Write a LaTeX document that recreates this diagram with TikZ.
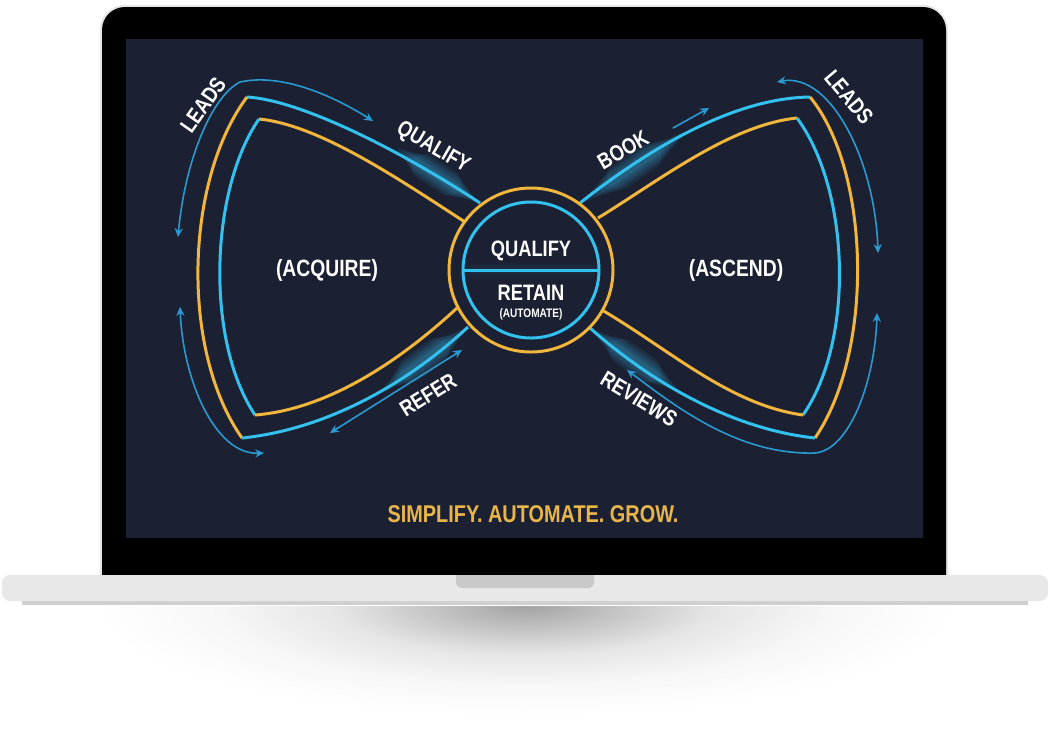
\documentclass[tikz,border=0pt]{standalone}
\usepackage{fontspec}
\newfontfamily\labelfont{Liberation Sans}[FakeStretch=0.82]
\usetikzlibrary{arrows.meta,calc}

\definecolor{screen}{HTML}{1B2133}
\definecolor{wireblue}{HTML}{33C2F0}
\definecolor{wiregold}{HTML}{F2B63D}
\definecolor{flowblue}{HTML}{2A9BD2}
\definecolor{glowblue}{HTML}{3FC8FF}
\definecolor{taggold}{HTML}{EAB548}
\definecolor{lidedge}{HTML}{E3E5E7}
\definecolor{basegray}{HTML}{E8E8E8}
\definecolor{notchgray}{HTML}{C9C9C9}
\definecolor{stripgray}{HTML}{CFCFCF}
\pgfdeclareradialshading{deskshadow}{\pgfpoint{0bp}{0bp}}{color(0bp)=(black!36); color(5bp)=(black!24); color(11bp)=(black!10); color(18bp)=(black!3); color(25bp)=(white)}

\begin{document}
\begin{tikzpicture}[x=0.02cm,y=-0.02cm,>={Stealth[length=5pt,width=4.6pt]},
  bluewire/.style={wireblue,line width=1.7pt,line join=round},
  goldwire/.style={wiregold,line width=1.7pt,line join=round},
  flow/.style={flowblue,line width=0.9pt,line cap=round},
  tag/.style={text=white,inner sep=0pt,font=\labelfont\bfseries\fontsize{12.7}{14}\selectfont},
  smalltag/.style={tag,font=\labelfont\bfseries\fontsize{7}{8}\selectfont},
  wingtag/.style={tag,font=\labelfont\bfseries\fontsize{13.4}{15}\selectfont}]
  \useasboundingbox (0,0) rectangle (1050,745);

  % laptop
  \begin{scope}
    \clip (0,606) rectangle (1050,745);
    \shade[shading=deskshadow] (525,606) ellipse (430 and 110);
  \end{scope}
  \fill[lidedge,rounded corners=5mm] (100,5) rectangle (948,600);
  \fill[black,rounded corners=4.6mm] (102,7) rectangle (946,600);
  \fill[screen] (126,39) rectangle (923,538);
  \fill[stripgray] (22,598) rectangle (1028,605);
  \fill[basegray,rounded corners=1.6mm] (2,575) rectangle (1048,601);
  \fill[notchgray,rounded corners=1.2mm] (456,568) rectangle (594,588);
  \fill[black] (440,565) rectangle (610,575);

  % hub and corners
  \coordinate (hub) at (531,270);
  \coordinate (lo1) at (247,97);  \coordinate (lo2) at (242,438);
  \coordinate (li1) at (259,119); \coordinate (li2) at (255,415);
  \coordinate (ro1) at (810,97);  \coordinate (ro2) at (815,438);
  \coordinate (ri1) at (797,118); \coordinate (ri2) at (803,415);

  % glow
  \coordinate (gq1) at (395,148); \coordinate (gq2) at (478,202);
  \coordinate (gb1) at (582,202); \coordinate (gb2) at (686,132);
  \coordinate (gr1) at (382,391); \coordinate (gr2) at (466,329);
  \coordinate (gv1) at (592,330); \coordinate (gv2) at (678,391);
  \foreach \a/\b in {gq1/gq2,gb1/gb2,gr1/gr2,gv1/gv2}
    \foreach \w/\s in {15/0.36,12/0.3,9.5/0.24,7/0.18,5/0.12,3.5/0.06}
      \draw[glowblue,line width=\w pt,opacity=0.08,line cap=round] ($(\a)!\s!(\b)$) -- ($(\b)!\s!(\a)$);
  \foreach \w/\s in {9/0.2,6/0.12,3.5/0.05}
    \draw[glowblue,line width=\w pt,opacity=0.06,line cap=round] ($(hub)+(-60,0)$) -- ($(hub)+(60,0)$);

  % left wing
  \draw[bluewire] (lo1) .. controls (300,100) and (400,150) .. (480,203);
  \draw[goldwire] (lo1) .. controls (185,180) and (180,350) .. (lo2);
  \draw[bluewire] (lo2) .. controls (320,430) and (400,390) .. (468,327);
  \draw[goldwire] (li1) .. controls (320,125) and (400,180) .. (465,222);
  \draw[bluewire] (li1) .. controls (210,190) and (205,340) .. (li2);
  \draw[goldwire] (li2) .. controls (320,410) and (390,370) .. (457,308);

  % right wing
  \draw[bluewire] (580,203) .. controls (660,140) and (740,98) .. (ro1);
  \draw[goldwire] (ro1) .. controls (870,170) and (875,350) .. (ro2);
  \draw[bluewire] (ro2) .. controls (740,430) and (660,390) .. (590,328);
  \draw[goldwire] (598,218) .. controls (660,180) and (730,125) .. (ri1);
  \draw[bluewire] (ri1) .. controls (850,190) and (855,340) .. (ri2);
  \draw[goldwire] (ri2) .. controls (730,405) and (670,350) .. (602,310);

  % hub
  \fill[screen,opacity=0.6] (hub) circle (81);
  \draw[goldwire] (hub) circle (82);
  \draw[bluewire] (hub) circle (68);
  \draw[bluewire] ($(hub)+(-68,0)$) -- ($(hub)+(68,0)$);

  % flow arrows
  \coordinate (la1) at (178,237); \coordinate (la2) at (373,121);
  \draw[flow,<->] (la1) .. controls (185,160) and (212,96) .. (240,82)
    .. controls (285,72) and (340,100) .. (la2);
  \coordinate (lb1) at (180,307); \coordinate (lb2) at (264,453);
  \draw[flow,<->] (lb1) .. controls (183,380) and (215,455) .. (lb2);
  \coordinate (rf1) at (330,433); \coordinate (rf2) at (462,350);
  \draw[flow,<->] (rf1) -- (rf2);
  \coordinate (bk1) at (673,128); \coordinate (bk2) at (709,108);
  \draw[flow,->] (bk1) -- (bk2);
  \coordinate (ra1) at (777,82); \coordinate (ra2) at (878,253);
  \draw[flow,<->] (ra1) .. controls (830,72) and (875,160) .. (ra2);
  \coordinate (rb1) at (877,313); \coordinate (rb2) at (627,370);
  \draw[flow,<->] (rb1) .. controls (875,380) and (850,450) .. (815,453)
    .. controls (740,455) and (680,410) .. (rb2);

  % labels
  \node[tag,anchor=base] (hubq) at (531,256) {QUALIFY};
  \node[tag,anchor=base] (hubr) at (531,300) {RETAIN};
  \node[smalltag,anchor=base] (huba) at (531,317) {(AUTOMATE)};
  \node[wingtag] (acq) at (327,270) {(ACQUIRE)};
  \node[wingtag] (asc) at (736,270) {(ASCEND)};
  \node[tag,rotate=55] (leadsl) at (203,105) {LEADS};
  \node[tag,rotate=-30] (qual) at (433,148) {QUALIFY};
  \node[tag,rotate=30] (book) at (623,150) {BOOK};
  \node[tag,rotate=-50] (leadsr) at (849,97) {LEADS};
  \node[tag,rotate=32] (refer) at (428,395) {REFER};
  \node[tag,rotate=-31] (reviews) at (639,399) {REVIEWS};
  \node[tag,text=taggold,font=\labelfont\bfseries\fontsize{13.8}{16}\selectfont] (motto) at (533,514) {SIMPLIFY. AUTOMATE. GROW.};
\end{tikzpicture}
\end{document}
